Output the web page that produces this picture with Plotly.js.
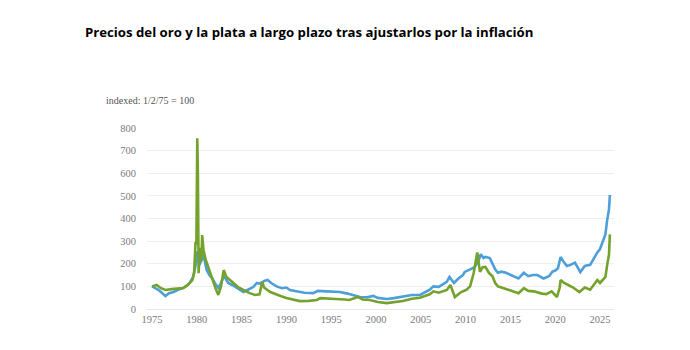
<!DOCTYPE html>
<html>
<head>
<meta charset="utf-8">
<script src="https://cdn.plot.ly/plotly-3.0.1.min.js"></script>
<style>html,body{margin:0;padding:0;background:#fff;}#chart{width:690px;height:350px;}</style>
</head>
<body>
<div id="chart"></div>
<script>
// Gold, inflation-adjusted, indexed 1/2/75 = 100
const goldYears = [1975.0,1975.3,1975.7,1976.0,1976.5,1976.9,1977.4,1977.9,1978.5,1978.9,1979.2,1979.6,1979.8,1979.9,1980.05,1980.2,1980.3,1980.5,1980.7,1980.9,1981.1,1981.4,1981.7,1982.0,1982.4,1982.6,1982.9,1983.1,1983.5,1984.0,1984.5,1985.2,1985.7,1986.3,1986.7,1987.0,1987.6,1987.9,1988.3,1988.9,1989.5,1990.0,1990.4,1991.0,1992.0,1993.0,1993.5,1994.5,1996.0,1996.8,1997.5,1998.2,1999.0,1999.7,2000.2,2001.2,2002.0,2003.0,2004.0,2004.9,2006.0,2006.4,2007.0,2007.9,2008.2,2008.7,2009.2,2009.7,2009.9,2010.5,2011.0,2011.4,2011.7,2012.0,2012.2,2012.7,2013.0,2013.3,2013.6,2014.0,2014.5,2015.0,2015.9,2016.5,2017.0,2017.5,2018.0,2018.7,2019.3,2019.7,2020.0,2020.3,2020.6,2021.0,2021.3,2021.7,2022.2,2022.8,2023.3,2023.9,2024.3,2024.7,2025.0,2025.3,2025.6,2025.8,2026.0,2026.1];
const goldValues = [100,95,85,75,57,70,75,85,93,105,115,142,186,200,255,215,195,215,240,210,172,150,137,115,93,106,135,142,115,105,93,75,85,97,115,112,125,128,115,100,92,95,84,80,72,70,80,78,75,68,60,53,52,58,49,44,48,54,62,62,85,100,98,120,142,115,135,150,164,175,185,210,242,225,230,225,200,175,160,165,160,150,135,160,145,150,150,135,145,165,170,180,230,205,190,195,205,163,190,195,225,250,265,300,330,394,440,504];

// Silver, inflation-adjusted, indexed 1/2/75 = 100
const silverYears = [1975.0,1975.5,1976.0,1976.5,1977.2,1978.0,1978.5,1979.0,1979.5,1979.7,1979.85,1979.95,1980.05,1980.12,1980.2,1980.35,1980.5,1980.6,1980.75,1981.0,1981.5,1981.8,1982.1,1982.4,1982.7,1983.0,1983.3,1983.7,1984.2,1984.6,1985.2,1985.9,1986.5,1987.0,1987.3,1987.5,1988.2,1988.8,1989.5,1990.0,1991.0,1991.5,1992.5,1993.4,1993.8,1994.5,1995.5,1996.5,1997.0,1998.0,1998.5,1999.3,2000.2,2001.2,2002.0,2003.0,2004.0,2004.9,2006.0,2006.4,2007.0,2007.9,2008.3,2008.8,2009.5,2010.1,2010.5,2010.9,2011.3,2011.45,2011.6,2011.9,2012.2,2012.6,2013.0,2013.3,2013.6,2014.0,2014.7,2015.3,2015.9,2016.5,2017.0,2017.6,2018.5,2019.0,2019.6,2020.2,2020.5,2020.6,2021.0,2021.5,2022.0,2022.7,2023.3,2023.9,2024.4,2024.7,2025.0,2025.4,2025.6,2025.8,2026.0,2026.1];
const silverValues = [100,106,92,84,88,90,93,106,128,160,290,290,755,600,158,270,210,327,260,217,159,115,90,62,100,172,142,128,110,97,84,70,62,65,120,95,75,65,55,49,40,35,36,40,48,45,44,42,40,53,42,40,31,26,30,35,45,50,65,78,72,84,106,53,75,85,100,159,250,200,164,185,186,160,145,115,100,95,85,78,70,92,80,78,68,66,78,53,95,128,115,105,95,75,95,85,110,128,115,130,142,195,240,330];

const xTicks = [1975,1980,1985,1990,1995,2000,2005,2010,2015,2020,2025];
const yTicks = [0,100,200,300,400,500,600,700,800];

const traces = [
  {x: goldYears, y: goldValues, type: 'scatter', mode: 'lines', name: 'Oro',
   line: {color: '#4c9fd9', width: 2.6}, hoverinfo: 'x+y'},
  {x: silverYears, y: silverValues, type: 'scatter', mode: 'lines', name: 'Plata',
   line: {color: '#74a22c', width: 2.6}, hoverinfo: 'x+y'}
];

const layout = {
  width: 690, height: 350,
  margin: {l: 147, r: 76, t: 128, b: 41},
  paper_bgcolor: '#ffffff', plot_bgcolor: '#ffffff',
  showlegend: false,
  title: {text: '<b>Precios del oro y la plata a largo plazo tras ajustarlos por la inflación</b>',
          font: {family: 'Open Sans, sans-serif', size: 13.2, color: '#000'},
          x: 85/690, xanchor: 'left', xref: 'container', y: 1 - 32/350, yanchor: 'middle', yref: 'container'},
  xaxis: {range: [1974.44, 2026.56], tickvals: xTicks, ticktext: xTicks.map(String),
          showgrid: false, zeroline: false, showline: true, linecolor: '#e6e6e6', linewidth: 1,
          ticks: '', tickfont: {family: 'Liberation Serif, serif', size: 10.5, color: '#7a7a7a'}, fixedrange: true},
  yaxis: {range: [0, 800], tickvals: yTicks, ticktext: yTicks.map(String),
          showgrid: true, gridcolor: '#efefef', gridwidth: 1, zeroline: false, showline: false,
          ticks: '', ticklabelstandoff: 10,
          tickfont: {family: 'Liberation Serif, serif', size: 10.5, color: '#7a7a7a'}, fixedrange: true},
  annotations: [{text: 'indexed: 1/2/75 = 100', xref: 'paper', yref: 'paper',
                 x: (104-147)/467, y: (309-100)/181, xanchor: 'left', yanchor: 'middle', showarrow: false,
                 font: {family: 'Liberation Serif, serif', size: 10, color: '#555'}}]
};

Plotly.newPlot('chart', traces, layout, {displayModeBar: false, staticPlot: true});
</script>
</body>
</html>
